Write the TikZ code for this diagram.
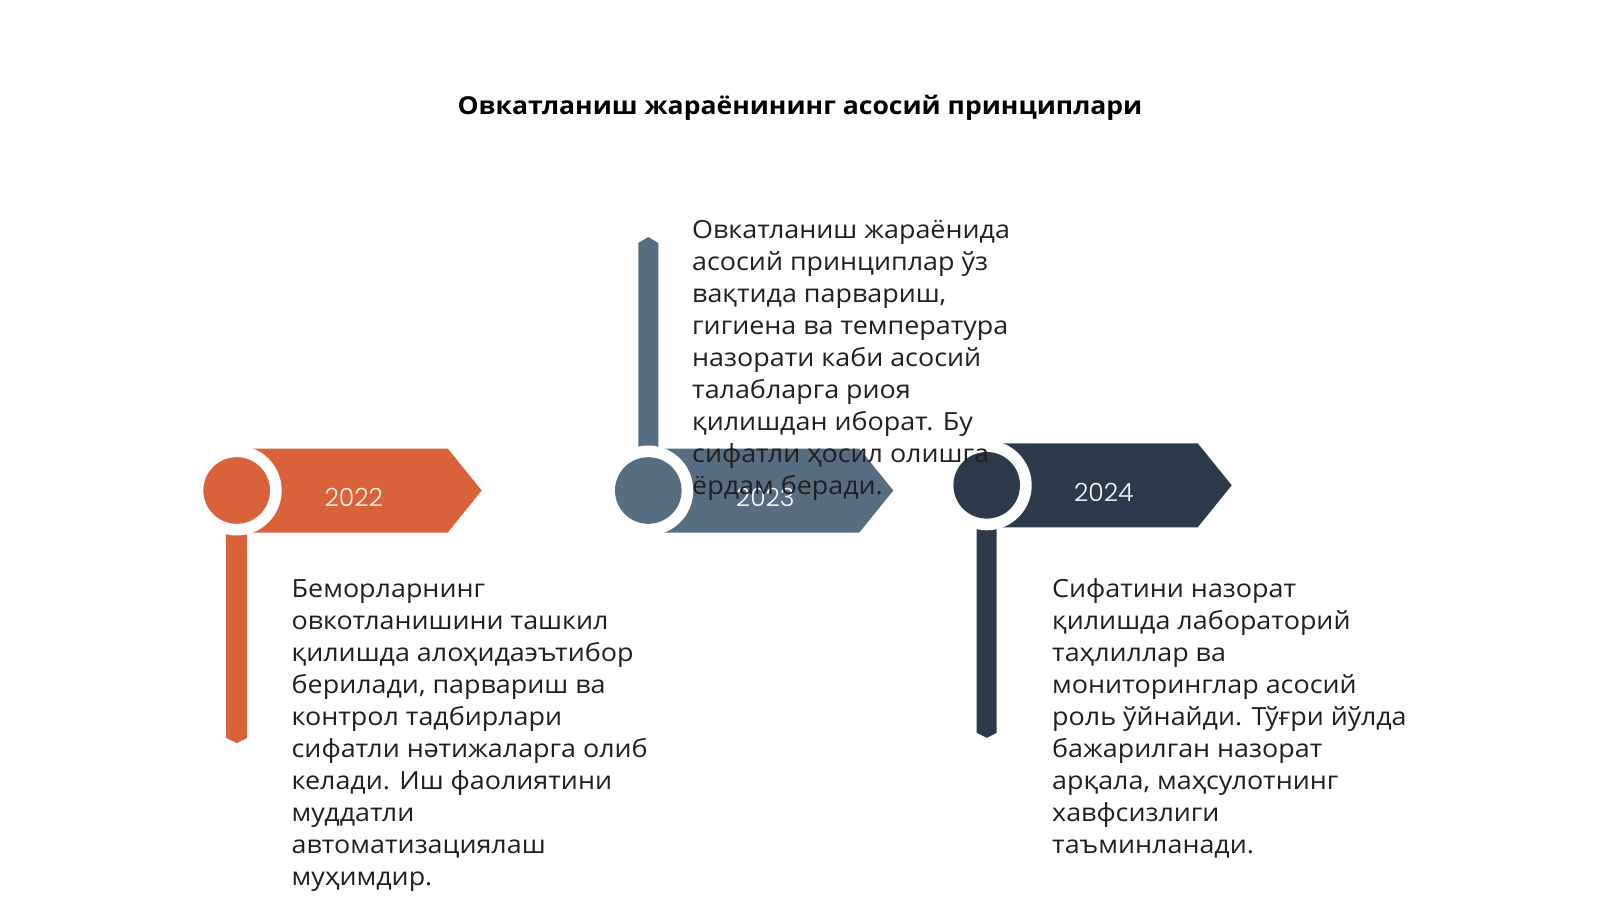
\documentclass[tikz,border=0pt]{standalone}
\usepackage{fontspec}
\setmainfont{Open Sans}[FakeStretch=1.075]
\newfontfamily\yearfont{Poppins Light}
\usetikzlibrary{calc}
\definecolor{rust}{HTML}{D9623A}
\definecolor{slate}{HTML}{566D82}
\definecolor{navy}{HTML}{2C3A4B}

\begin{document}
\begin{tikzpicture}[x=1pt,y=-1pt,
	body/.style={anchor=base west, align=left, inner sep=0pt, text=black!88,
		font=\fontsize{25}{32}\selectfont},
	year/.style={inner sep=0pt, text=white, font=\yearfont\fontsize{25}{30}\selectfont},
	ring/.style={fill=white}]
	\fill[white] (0,0) rectangle (1600,900);
	\useasboundingbox (0,0) rectangle (1600,900);
	
	\node[font=\bfseries\fontsize{24.7}{30}\selectfont, anchor=base] (title) at (800,114)
		{Овкатланиш жараёнининг асосий принциплари};
	
	\coordinate (c1) at (236.7,490.5);
	\coordinate (c2) at (648.3,490.5);
	\coordinate (c3) at (986.7,485.3);
	
	% 2022
	\fill[rust] ($(c1)+(-10.5,40)$) -- ($(c1)+(10.5,40)$) -- ($(c1)+(10.5,247.5)$)
		-- ($(c1)+(0,252.5)$) -- ($(c1)+(-10.5,247.5)$) -- cycle;
	\fill[rust] (c1) ++(0,-42) -- ++(211,0) -- ++(34,42) -- ++(-34,42) -- ++(-211,0) -- cycle;
	\fill[ring] (c1) circle (45);
	\fill[rust] (c1) circle (33.3);
	\node[year, text=white!92!orange] (y1) at ($(c1)+(117,7)$) {2022};
	
	% 2023
	\fill[slate] ($(c2)+(-10,-42)$) -- ($(c2)+(10,-42)$) -- ($(c2)+(10,-247.5)$)
		-- ($(c2)+(0,-253.5)$) -- ($(c2)+(-10,-247.5)$) -- cycle;
	\fill[slate] (c2) ++(0,-42) -- ++(211,0) -- ++(34,42) -- ++(-34,42) -- ++(-211,0) -- cycle;
	\fill[ring] (c2) circle (45);
	\fill[slate] (c2) circle (33.3);
	\node[year] (y2) at ($(c2)+(117,7)$) {2023};
	
	% 2024
	\fill[navy] ($(c3)+(-10,40)$) -- ($(c3)+(10,40)$) -- ($(c3)+(10,247.5)$)
		-- ($(c3)+(0,252.5)$) -- ($(c3)+(-10,247.5)$) -- cycle;
	\fill[navy] (c3) ++(0,-42) -- ++(211,0) -- ++(34,42) -- ++(-34,42) -- ++(-211,0) -- cycle;
	\fill[ring] (c3) circle (45);
	\fill[navy] (c3) circle (33.3);
	\node[year] (y3) at ($(c3)+(117,7)$) {2024};
	
	% texts, placed by the baseline of their last line
	\node[body] (t1) at (291.5,885.5) {Беморларнинг\\овкотланишини ташкил\\қилишда алоҳидаэътибор\\берилади, парвариш ва\\контрол тадбирлари\\сифатли нәтижаларга олиб\\келади. Иш фаолиятини\\муддатли\\автоматизациялаш\\муҳимдир.};
	\node[body] (t2) at (692,494) {Овкатланиш жараёнида\\асосий принциплар ўз\\вақтида парвариш,\\гигиена ва температура\\назорати каби асосий\\талабларга риоя\\қилишдан иборат. Бу\\сифатли ҳосил олишга\\ёрдам беради.};
	\node[body] (t3) at (1052,853) {Сифатини назорат\\қилишда лабораторий\\таҳлиллар ва\\мониторинглар асосий\\роль ўйнайди. Тўғри йўлда\\бажарилган назорат\\арқала, маҳсулотнинг\\хавфсизлиги\\таъминланади.};
\end{tikzpicture}
\end{document}
